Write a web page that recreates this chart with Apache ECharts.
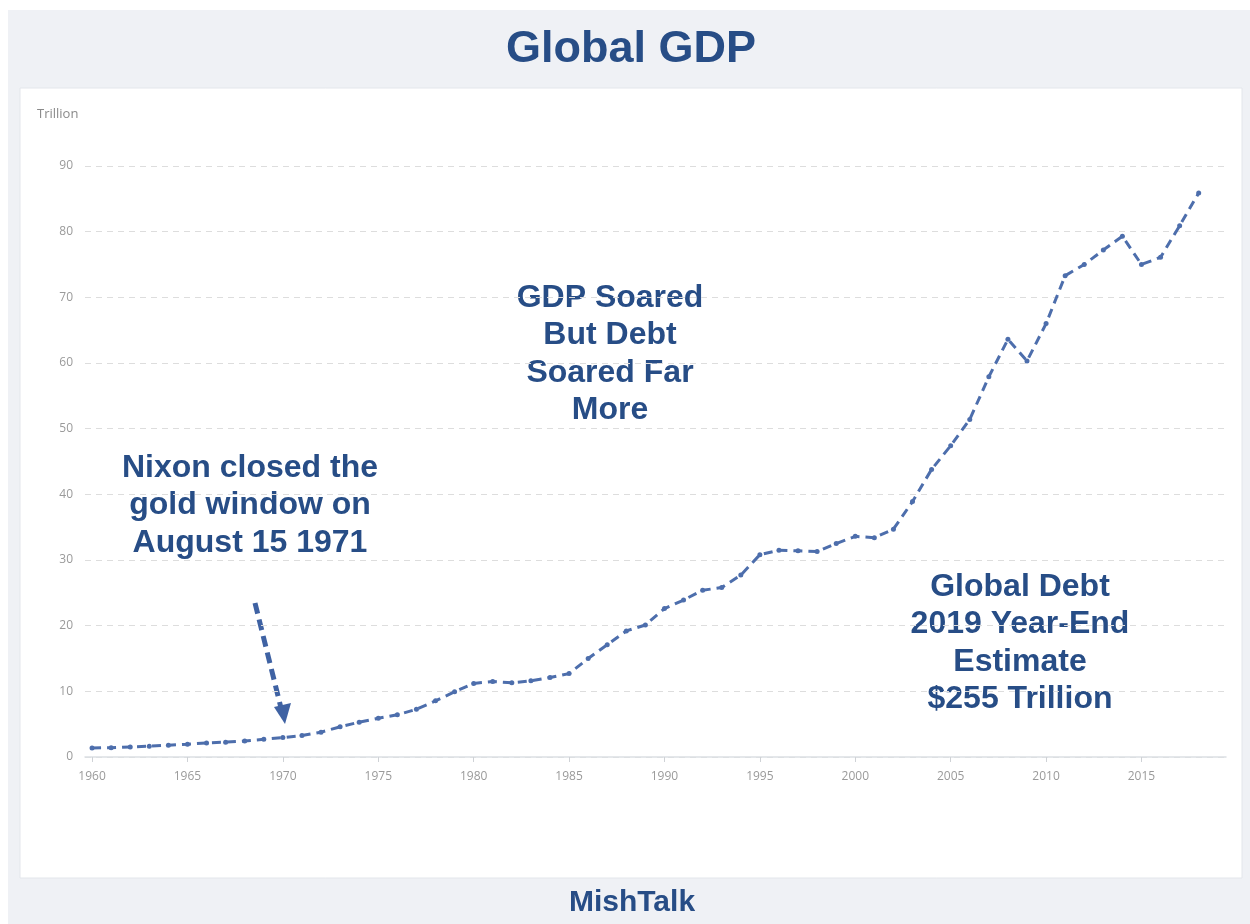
<!DOCTYPE html>
<html>
<head>
<meta charset="utf-8">
<title>Global GDP</title>
<script src="https://cdn.jsdelivr.net/npm/echarts@6/dist/echarts.min.js"></script>
<style>
  html, body { margin: 0; padding: 0; background: #ffffff; }
  #chart { width: 1250px; height: 924px; }
</style>
</head>
<body>
<div id="chart"></div>
<script>
// World GDP, current US$, trillions
const years = [1960,1961,1962,1963,1964,1965,1966,1967,1968,1969,
               1970,1971,1972,1973,1974,1975,1976,1977,1978,1979,
               1980,1981,1982,1983,1984,1985,1986,1987,1988,1989,
               1990,1991,1992,1993,1994,1995,1996,1997,1998,1999,
               2000,2001,2002,2003,2004,2005,2006,2007,2008,2009,
               2010,2011,2012,2013,2014,2015,2016,2017,2018];
const gdp = [1.37,1.42,1.53,1.64,1.80,1.96,2.13,2.26,2.44,2.69,
             2.96,3.27,3.78,4.60,5.30,5.90,6.42,7.26,8.55,9.93,
             11.2,11.5,11.3,11.6,12.1,12.7,15.0,17.1,19.2,20.1,
             22.6,23.9,25.4,25.8,27.7,30.8,31.5,31.4,31.3,32.5,
             33.6,33.4,34.7,38.9,43.8,47.4,51.4,57.9,63.6,60.3,
             66.0,73.3,75.0,77.2,79.3,75.0,76.1,80.9,85.9];
const xTicks = [1960,1965,1970,1975,1980,1985,1990,1995,2000,2005,2010,2015];

const titleText = 'Global GDP';
const unitText = 'Trillion';
const footerText = 'MishTalk';
const noteSoared = 'GDP Soared\nBut Debt\nSoared Far\nMore';
const noteNixon = 'Nixon closed the\ngold window on\nAugust 15 1971';
const noteDebt = 'Global Debt\n2019 Year-End\nEstimate\n$255 Trillion';

const navy = '#274d86';
const lineBlue = '#4d6eac';
const boldFont = '"Liberation Sans", Arial, sans-serif';

const chart = echarts.init(document.getElementById('chart'), null, { renderer: 'canvas' });

const noteStyle = (text) => ({
  text: text,
  fill: navy,
  font: 'bold 32px ' + boldFont,
  textAlign: 'center',
  lineHeight: 37.5
});

chart.setOption({
  backgroundColor: '#ffffff',
  animation: false,
  graphic: [
    { type: 'rect', z: -10, shape: { x: 8, y: 10, width: 1242, height: 914 },
      style: { fill: '#eff1f5' } },
    { type: 'rect', z: -9, shape: { x: 20, y: 88, width: 1222, height: 790 },
      style: { fill: '#ffffff', stroke: '#e3e6eb', lineWidth: 1 } },
    { type: 'text', x: 631, y: 50,
      style: { text: titleText, fill: navy, font: 'bold 45px ' + boldFont,
               textAlign: 'center', textVerticalAlign: 'middle' } },
    { type: 'text', x: 37, y: 108,
      style: { text: unitText, fill: '#8a8a8a', font: '13px "Open Sans", sans-serif' } },
    { type: 'text', x: 610, y: 279, style: noteStyle(noteSoared) },
    { type: 'text', x: 250, y: 449, style: noteStyle(noteNixon) },
    { type: 'text', x: 1020, y: 568, style: noteStyle(noteDebt) },
    // dashed pointer towards 1971
    { type: 'line', shape: { x1: 255, y1: 603, x2: 281, y2: 708 },
      style: { stroke: '#3f62a3', lineWidth: 5, lineDash: [11, 6] } },
    { type: 'polygon', shape: { points: [[274, 707], [291, 703], [285, 724]] },
      style: { fill: '#3f62a3' } },
    { type: 'text', x: 632, y: 903,
      style: { text: footerText, fill: navy, font: 'bold 30px ' + boldFont,
               textAlign: 'center', textVerticalAlign: 'middle' } }
  ],
  grid: { left: 85, top: 166, width: 1141, height: 591, containLabel: false },
  xAxis: {
    type: 'value',
    min: 1959.63,
    max: 2019.43,
    axisLine: { show: true, lineStyle: { color: '#dcdfe3', width: 1.5 } },
    axisTick: { show: true, customValues: xTicks, length: 5, inside: false,
                lineStyle: { color: '#cfd2d6' } },
    axisLabel: { customValues: xTicks, color: '#9a9a9a', fontSize: 12, margin: 14,
                 fontFamily: '"Open Sans", sans-serif', formatter: (v) => String(v) },
    splitLine: { show: false }
  },
  yAxis: {
    type: 'value',
    min: 0,
    max: 90,
    interval: 10,
    axisLine: { show: false },
    axisTick: { show: false },
    axisLabel: { color: '#9a9a9a', fontSize: 12, margin: 12,
                 fontFamily: '"Open Sans", sans-serif' },
    splitLine: { lineStyle: { color: '#dddddd', type: [6, 5], width: 1 } }
  },
  series: [{
    type: 'line',
    data: years.map((y, i) => [y, gdp[i]]),
    showSymbol: true,
    symbol: 'circle',
    symbolSize: 5,
    itemStyle: { color: lineBlue },
    lineStyle: { color: lineBlue, width: 3, type: [9, 6] }
  }]
});
</script>
</body>
</html>
